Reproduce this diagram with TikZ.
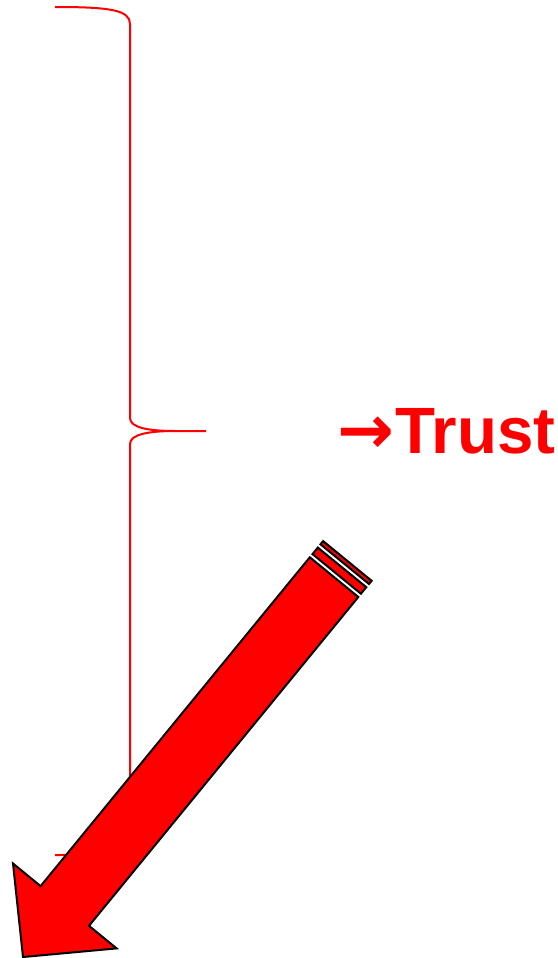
\documentclass[tikz,border=0pt]{standalone}
\usepackage{fontspec}
\setmainfont{Liberation Sans}
\newfontfamily\arrowfont{DejaVu Sans}
\begin{document}
\begin{tikzpicture}[x=1pt,y=-1pt,
  bracestyle/.style={draw=red,line width=2pt},
  arrowpart/.style={fill=red,draw=black,line width=2pt,line join=miter},
  lbl/.style={text=red,font=\fontsize{65.5}{70}\selectfont\bfseries,inner sep=0pt}]
\useasboundingbox (0,0) rectangle (557,958);
% brace
\draw[bracestyle] (55,7) .. controls (110,7) and (130,10) .. (130,24)
  -- (130,418) .. controls (130,428) and (150,431) .. (175,431) -- (206,431)
  (175,431) .. controls (150,431) and (130,434) .. (130,444)
  -- (130,840) .. controls (130,852) and (110,855) .. (55,855);
% label
\node[lbl,anchor=base west] (trust) at (337,453) {{\arrowfont\fontsize{68}{70}\selectfont →}\kern1pt Trust};
% striped block arrow
\draw[arrowpart] (23,957) -- (13,863.5) -- (40.6,886.1) -- (309.8,557.3)
  -- (358.3,597.0) -- (89.0,925.8) -- (116.6,948.4) -- cycle;
\draw[arrowpart] (312.5,554.1) -- (317.8,547.6) -- (366.3,587.2) -- (360.9,593.7) -- cycle;
\draw[arrowpart] (320.5,544.3) -- (323.1,541.1) -- (371.6,580.8) -- (369.0,584.0) -- cycle;
\end{tikzpicture}
\end{document}
